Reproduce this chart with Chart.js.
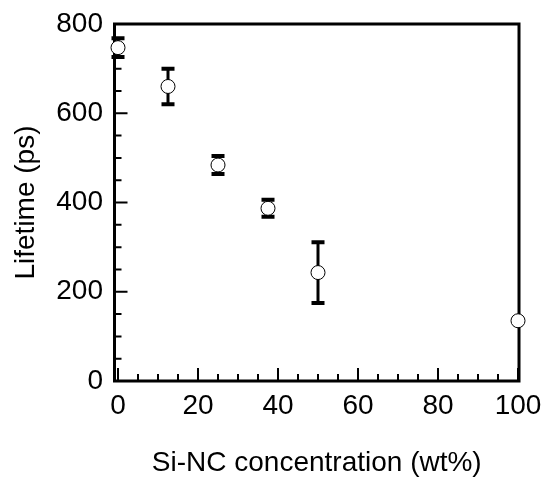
<!DOCTYPE html>
<html>
<head>
<meta charset="utf-8">
<script src="https://cdn.jsdelivr.net/npm/chart.js@4"></script>
<style>
  html, body { margin: 0; padding: 0; background: #fff; }
</style>
</head>
<body>
<canvas id="lifetimeChart" width="545" height="481"></canvas>
<script>
// Si-NC concentration (wt%)
const concentration = [0, 12.5, 25, 37.5, 50, 100];
// Lifetime (ps)
const lifetime = [747, 660, 484, 387, 243, 135];
// error bar half height (ps), 0 = no bar
const lifetimeErr = [21, 40, 20, 19, 68, 0];

// axis ticks
const xMajorTicks = [0, 20, 40, 60, 80, 100];
const xMinorTicks = [5, 10, 15, 25, 30, 35, 45, 50, 55, 65, 70, 75, 85, 90, 95];
const yMajorTicks = [0, 200, 400, 600, 800];
const yMinorTicks = [50, 100, 150, 250, 300, 350, 450, 500, 550, 650, 700, 750];

const FONT = '"Liberation Sans", Arial, Helvetica, sans-serif';
Chart.defaults.font.family = FONT;
Chart.defaults.color = '#000';

/**
 * Box frame + inward ticks (left and bottom only)
 */
const framePlugin = {
  id: 'frame',
  beforeDatasetsDraw(chart) {
    const { ctx, chartArea: a, scales: { x, y } } = chart;
    ctx.save();
    ctx.strokeStyle = '#000';

    // ticks
    ctx.lineWidth = 2;
    ctx.beginPath();
    xMajorTicks.forEach(v => {
      const px = x.getPixelForValue(v);
      ctx.moveTo(px, a.bottom); ctx.lineTo(px, a.bottom - 13);
    });
    xMinorTicks.forEach(v => {
      const px = x.getPixelForValue(v);
      ctx.moveTo(px, a.bottom); ctx.lineTo(px, a.bottom - 7);
    });
    yMajorTicks.forEach(v => {
      const py = y.getPixelForValue(v);
      ctx.moveTo(a.left, py); ctx.lineTo(a.left + 13, py);
    });
    yMinorTicks.forEach(v => {
      const py = y.getPixelForValue(v);
      ctx.moveTo(a.left, py); ctx.lineTo(a.left + 7, py);
    });
    ctx.stroke();

    // frame
    ctx.lineWidth = 3;
    ctx.strokeRect(a.left, a.top, a.right - a.left, a.bottom - a.top);
    ctx.restore();
  }
};

/**
 * Vertical error bars with caps, drawn under the markers
 */
const errorBarPlugin = {
  id: 'errorBars',
  beforeDatasetsDraw(chart) {
    const { ctx, scales: { x, y } } = chart;
    ctx.save();
    ctx.strokeStyle = '#000';
    concentration.forEach((c, i) => {
      const err = lifetimeErr[i];
      if (!err) return;
      const px = x.getPixelForValue(c);
      const top = y.getPixelForValue(lifetime[i] + err);
      const bot = y.getPixelForValue(lifetime[i] - err);
      ctx.lineWidth = 3;
      ctx.beginPath();
      ctx.moveTo(px, top); ctx.lineTo(px, bot);
      ctx.stroke();
      ctx.lineWidth = 4;
      ctx.beginPath();
      ctx.moveTo(px - 6.5, top); ctx.lineTo(px + 6.5, top);
      ctx.moveTo(px - 6.5, bot); ctx.lineTo(px + 6.5, bot);
      ctx.stroke();
    });
    ctx.restore();
  }
};

// keep label overhang from pushing the plot area in
function noPadding(s) {
  s.paddingTop = 0; s.paddingBottom = 0;
  s.paddingLeft = 0; s.paddingRight = 0;
}

new Chart(document.getElementById('lifetimeChart'), {
  type: 'scatter',
  data: {
    datasets: [{
      data: concentration.map((c, i) => ({ x: c, y: lifetime[i] })),
      pointRadius: 7,
      pointHoverRadius: 7,
      pointBackgroundColor: '#fff',
      pointBorderColor: '#000',
      pointBorderWidth: 1,
      clip: false
    }]
  },
  options: {
    responsive: false,
    animation: false,
    devicePixelRatio: 1,
    layout: { padding: { top: 24, right: 26, left: 0, bottom: 0 } },
    plugins: { legend: { display: false }, tooltip: { enabled: false } },
    scales: {
      x: {
        type: 'linear',
        min: -0.875,
        max: 100.25,
        afterBuildTicks: s => { s.ticks = xMajorTicks.map(v => ({ value: v })); },
        afterFit: s => { s.height = 100; noPadding(s); },
        grid: { display: false, drawTicks: false },
        border: { display: false },
        ticks: { font: { size: 28 }, color: '#000', padding: 8, maxRotation: 0, autoSkip: false },
        title: {
          display: true,
          text: 'Si-NC concentration (wt%)',
          font: { size: 28 },
          color: '#000',
          padding: { bottom: 1 }
        }
      },
      y: {
        type: 'linear',
        min: 0,
        max: 800,
        afterBuildTicks: s => { s.ticks = yMajorTicks.map(v => ({ value: v })); },
        afterFit: s => { s.width = 114.5; noPadding(s); },
        grid: { display: false, drawTicks: false },
        border: { display: false },
        ticks: { font: { size: 28 }, color: '#000', padding: 11.5, autoSkip: false },
        title: {
          display: true,
          text: 'Lifetime (ps)',
          font: { size: 28 },
          color: '#000',
          padding: { top: 9 }
        }
      }
    }
  },
  plugins: [framePlugin, errorBarPlugin]
});
</script>
</body>
</html>
